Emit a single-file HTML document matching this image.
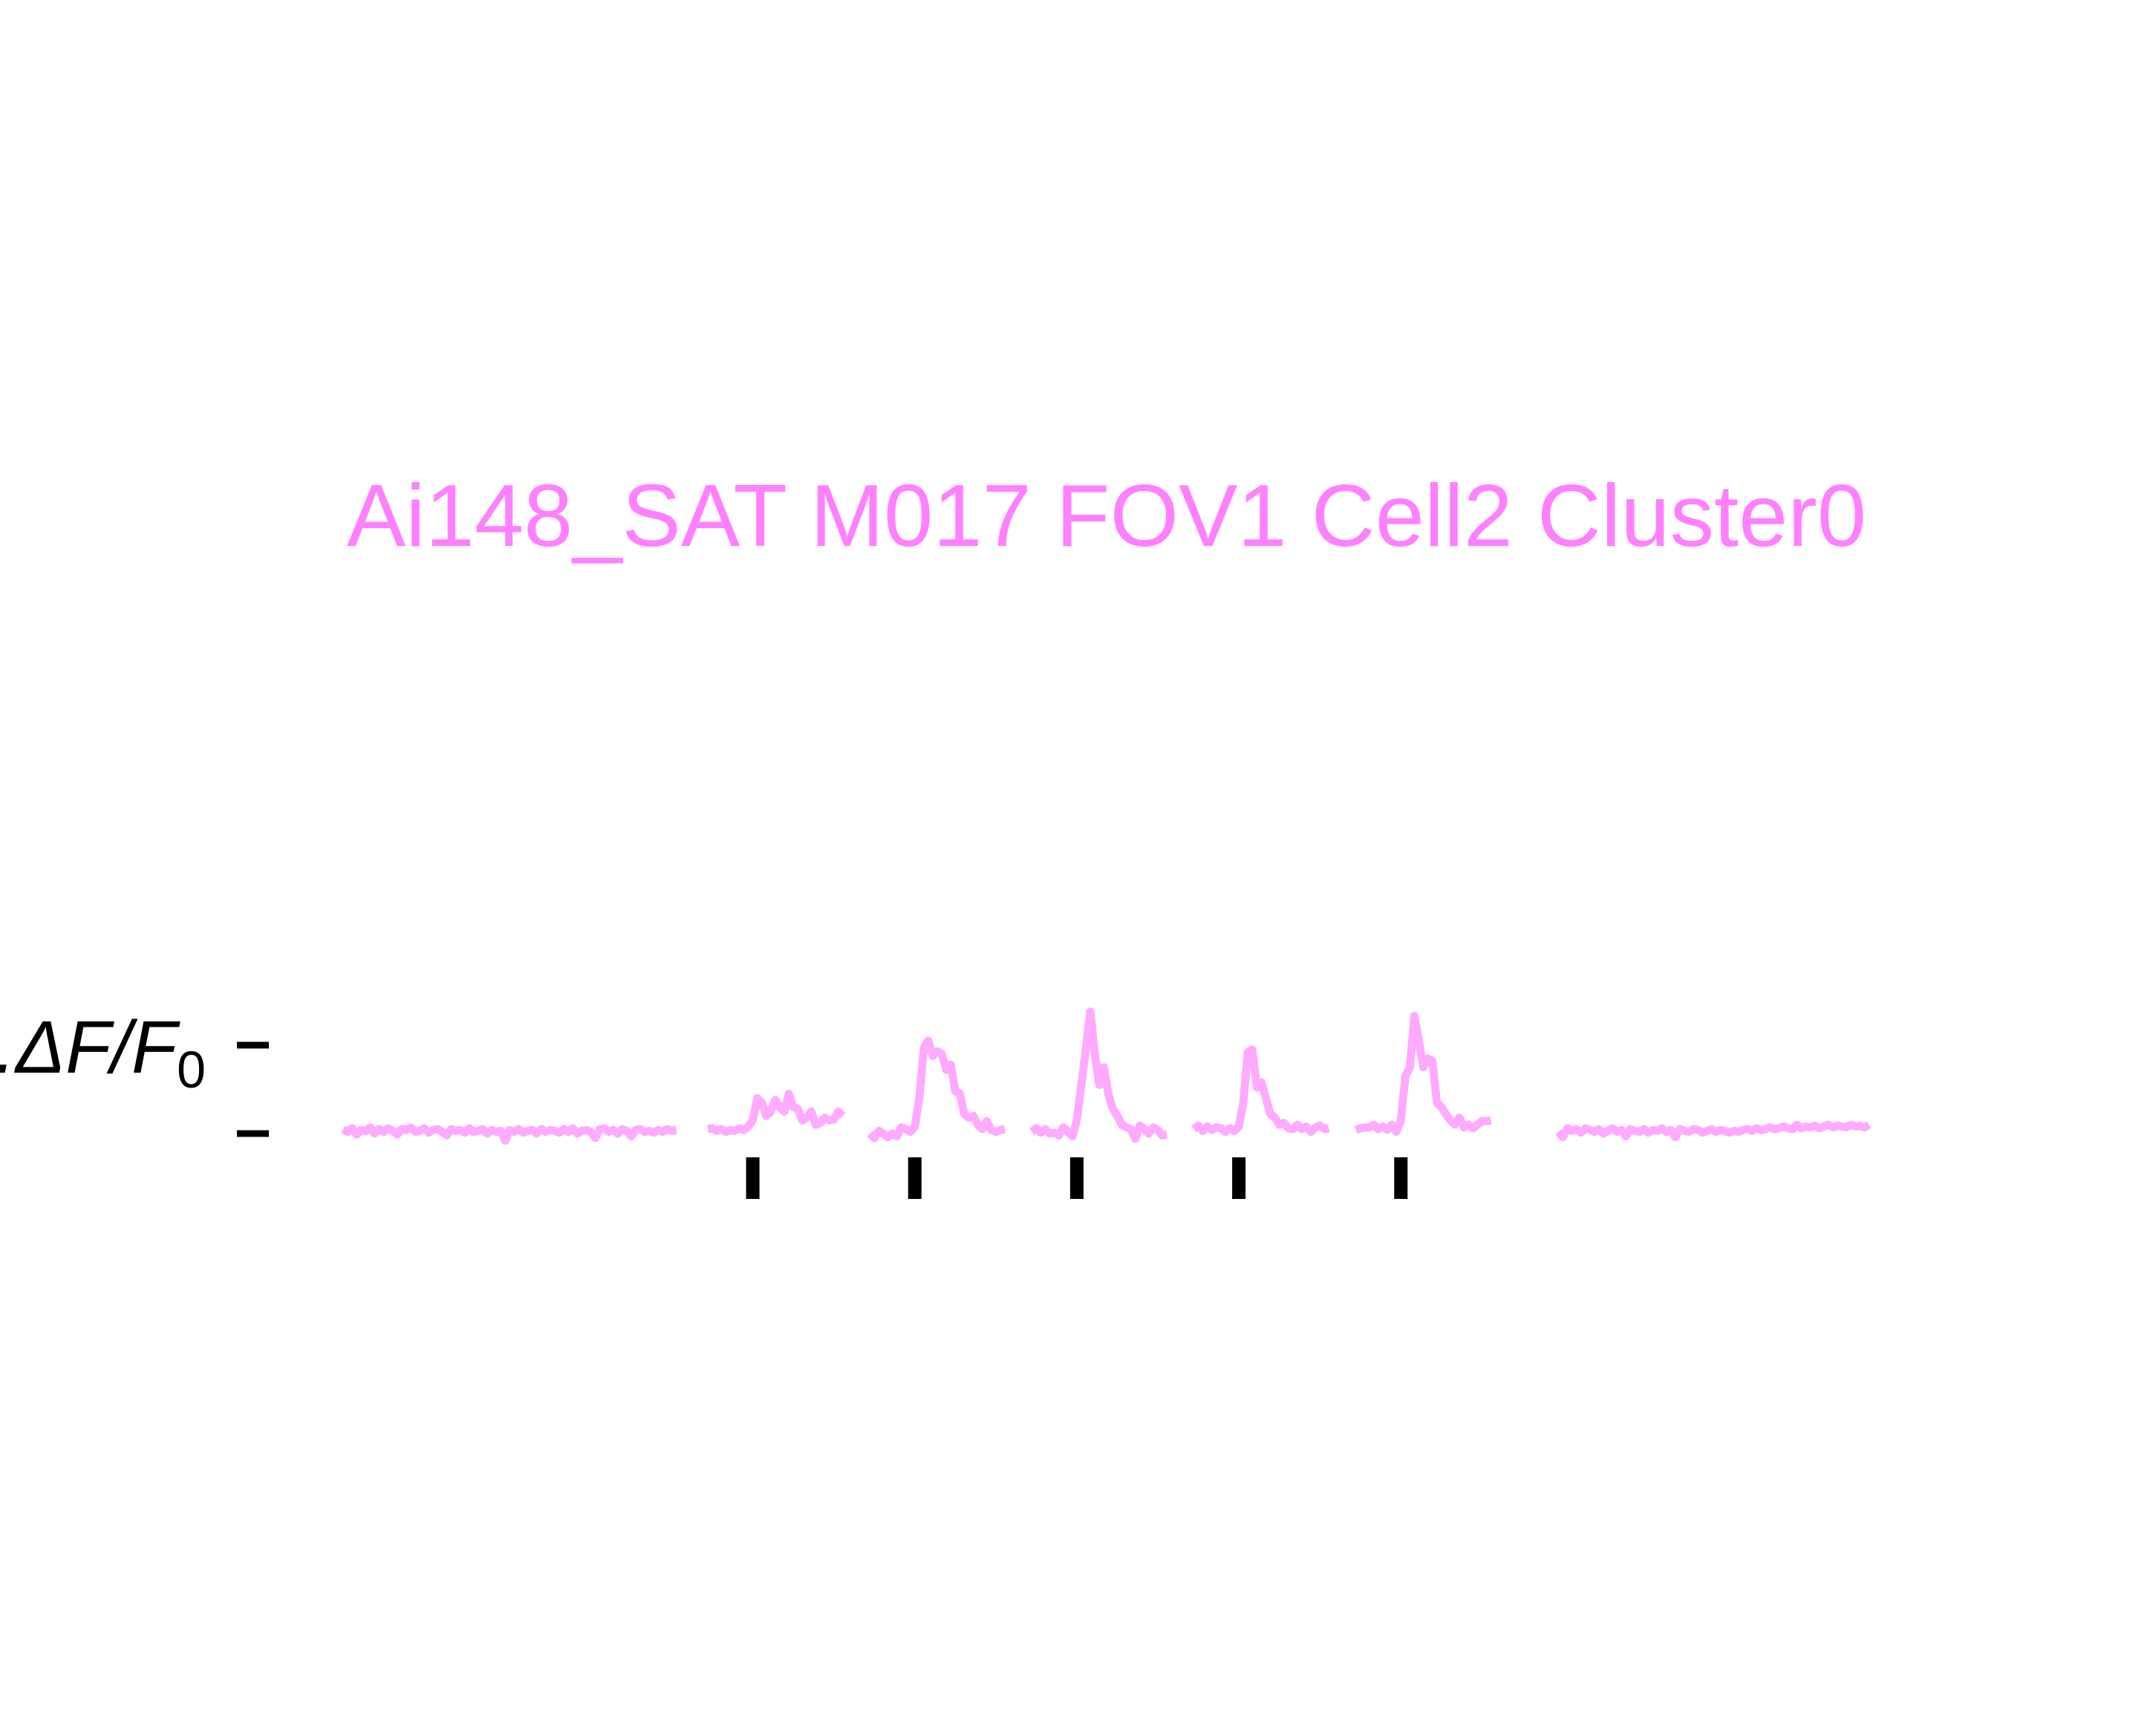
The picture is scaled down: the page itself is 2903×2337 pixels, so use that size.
<!DOCTYPE html>
<html><head><meta charset="utf-8"><style>
html,body{margin:0;padding:0;background:#fff;}
svg{display:block;}
</style></head><body>
<svg id="chart" width="2903" height="2337" viewBox="0 0 2903 2337" xmlns="http://www.w3.org/2000/svg">
<rect width="2903" height="2337" fill="#fff"/>
<text x="1490" y="735" text-anchor="middle" font-family="Liberation Sans, sans-serif" font-size="119" fill="#ff80ff">Ai148_SAT M017 FOV1 Cell2 Cluster0</text>
<text x="277" y="1444" text-anchor="end" font-family="Liberation Sans, sans-serif" font-size="100" font-style="italic" fill="#000">1.ΔF/F<tspan font-style="normal" font-size="70" dy="20">0</tspan></text>
<g id="scale"></g>
<g id="traces"></g>
<g id="stims"></g>
</svg>
<script>
const dt = 0.1;
const trialOnsets = [0, 3.6, 7.2, 10.8, 14.4];
const stimOffset = 1.0;
const scaleTicks = [0, 1];
const preStart = -8.1;
const postStart = 18.9;
const preValues = [0.05,0.02,0.06,-0.01,0.04,0.03,0.07,0.00,0.05,0.02,0.06,0.03,-0.01,0.05,0.04,0.07,0.02,0.03,0.06,0.01,0.04,0.05,0.02,-0.02,0.05,0.03,0.04,0.01,0.06,0.02,0.03,0.05,0.00,0.04,0.02,0.03,-0.08,0.04,0.02,0.05,0.01,0.03,0.04,0.00,0.05,0.02,0.04,0.03,0.01,0.05,0.02,0.06,0.00,0.03,0.04,0.02,-0.05,0.05,0.06,0.02,0.04,0.00,0.05,0.03,-0.03,0.04,0.05,0.02,0.03,0.01,0.04,0.02,0.05,0.03,0.04];
const postValues = [0.02,-0.04,0.06,0.03,0.05,0.01,0.06,0.04,0.02,0.05,0.00,0.03,0.06,0.02,0.04,-0.03,0.05,0.03,0.02,0.05,0.01,0.04,0.03,0.06,0.02,0.04,-0.04,0.05,0.03,0.02,0.05,0.04,0.01,0.03,0.05,0.02,0.04,0.03,0.01,0.03,0.02,0.04,0.05,0.03,0.06,0.04,0.05,0.07,0.05,0.06,0.08,0.06,0.05,0.10,0.06,0.08,0.07,0.09,0.06,0.08,0.10,0.07,0.09,0.08,0.07,0.10,0.08,0.09,0.07,0.10];
const trial1 = [0.05,0.06,0.03,0.05,0.02,0.04,0.03,0.06,0.04,0.08,0.15,0.40,0.35,0.20,0.25,0.38,0.30,0.25,0.45,0.30,0.28,0.15,0.18,0.25,0.10,0.12,0.18,0.15,0.16,0.25,0.20];
const trial2 = [0.00,-0.05,0.03,0.00,-0.04,0.00,-0.03,0.07,0.05,0.02,0.08,0.40,0.97,1.05,0.88,0.93,0.90,0.72,0.78,0.48,0.45,0.22,0.18,0.20,0.10,0.05,0.14,0.04,0.02,0.04,0.05];
const trial3 = [0.02,0.06,0.01,0.05,0.00,0.01,-0.02,0.07,0.02,-0.03,0.15,0.55,0.95,1.38,0.90,0.55,0.75,0.45,0.28,0.20,0.10,0.07,0.05,-0.06,0.09,0.05,0.00,0.07,0.04,-0.02,-0.01];
const trial4 = [0.05,0.09,0.03,0.08,0.04,0.07,0.06,0.02,0.06,0.03,0.08,0.35,0.92,0.95,0.52,0.58,0.40,0.22,0.18,0.10,0.12,0.06,0.05,0.10,0.05,0.08,0.02,0.07,0.09,0.05,0.06];
const trial5 = [0.04,0.06,0.07,0.07,0.10,0.05,0.08,0.04,0.10,0.02,0.15,0.65,0.75,1.33,1.05,0.75,0.85,0.82,0.35,0.30,0.22,0.15,0.10,0.18,0.07,0.10,0.06,0.10,0.14,0.14,0.15];
const trials = [trial1, trial2, trial3, trial4, trial5];

const X0 = 953, PXS = 60.6, Y0 = 1526, PXU = 119;
function xs(t){ return X0 + t*PXS; }
function ys(v){ return Y0 - v*PXU; }
const NS = 'http://www.w3.org/2000/svg';

const sc = document.getElementById('scale');
scaleTicks.forEach(function(v, i){
  const r = document.createElementNS(NS, 'rect');
  r.setAttribute('x', 319); r.setAttribute('y', ys(v) - 4.5);
  r.setAttribute('width', 43); r.setAttribute('height', 9); r.setAttribute('fill', '#000');
  
  
  sc.appendChild(r);
});

const tg = document.getElementById('traces');
function drawSeg(start, vals, name){
  const p = document.createElementNS(NS, 'polyline');
  p.setAttribute('points', vals.map(function(v, i){ return xs(start + i*dt).toFixed(1) + ',' + ys(v).toFixed(1); }).join(' '));
  p.setAttribute('fill', 'none'); p.setAttribute('stroke', '#ffaaff');
  p.setAttribute('stroke-width', 11); p.setAttribute('stroke-linejoin', 'round');
  
  
  tg.appendChild(p);
}
drawSeg(preStart, preValues, 'baseline-trace-pre');
trials.forEach(function(tr, i){ drawSeg(trialOnsets[i], tr, 'trial-trace-' + (i+1)); });
drawSeg(postStart, postValues, 'baseline-trace-post');

const sg = document.getElementById('stims');
trialOnsets.forEach(function(t, i){
  const r = document.createElementNS(NS, 'rect');
  r.setAttribute('x', xs(t + stimOffset) - 9); r.setAttribute('y', 1558);
  r.setAttribute('width', 18); r.setAttribute('height', 56); r.setAttribute('fill', '#000');
  
  
  sg.appendChild(r);
});
</script>
</body></html>
